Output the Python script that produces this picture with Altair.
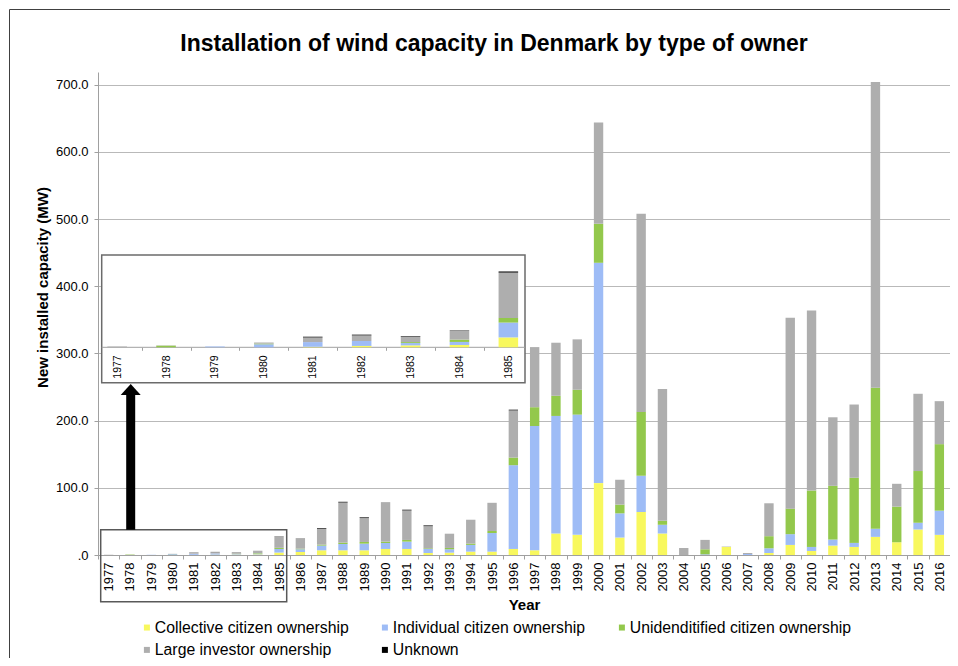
import altair as alt
import pandas as pd

years = [str(y) for y in range(1977, 2017)]
owners = ["Collective citizen ownership", "Individual citizen ownership",
          "Unidenditified citizen ownership", "Large investor ownership", "Unknown"]
colors = ["#F8F85E", "#9EBCF6", "#93C84C", "#AEAEAE", "#000000"]

collective = [0, 0, 0, 0, 0.2, 0.5, 0.7, 0.85, 3.6, 4.5,
              7, 7, 7, 9, 9, 3, 3.5, 5, 5, 9,
              7, 32, 30, 107, 26, 64, 32, 0, 0, 12,
              0, 3, 15, 6, 14, 12, 27, 19, 38, 30]
individual = [0, 0, 0.3, 1.1, 1.7, 1.8, 0.85, 1.1, 5.4, 4,
              7, 9.4, 9.9, 8.9, 10.9, 6, 5, 10, 27.7, 124.7,
              185, 175, 179, 328, 36, 54, 13, 0, 1, 0,
              1.5, 7, 16, 6, 9, 6, 12, 0, 10, 36]
unidentified = [0, 0.6, 0, 0.25, 0, 0, 0.35, 0.85, 1.7, 1,
                1.4, 2, 2.5, 2, 2.5, 1, 2, 2, 3, 11.3,
                28, 30, 37, 58, 13, 95, 6, 0, 7.5, 0,
                0, 18, 38, 84, 80, 97, 210, 53, 77, 99]
large_investor = [0.3, 0.1, 0, 0.4, 1.7, 2.05, 1.95, 3.15, 16.5, 15.7,
                  23.3, 59.8, 35.6, 58.8, 44, 33, 21.2, 35.5, 42, 70.3,
                  89.5, 79, 75, 151, 37, 295, 196, 10.4, 14, 0.6,
                  1.5, 49, 284, 268, 102, 109, 455, 34, 115, 64]
unknown = [0, 0, 0, 0, 0.25, 0.25, 0.2, 0.15, 0.4, 0,
           1, 1, 1, 0, 1, 1, 0, 0, 0, 1,
           0, 0, 0, 0, 0, 0, 0, 0, 0, 0,
           0, 0, 0, 0, 0, 0, 0, 0, 0, 0]

inset_years = years[:9]
y_ticks = [0, 100, 200, 300, 400, 500, 600, 700]
title_text = "Installation of wind capacity in Denmark by type of owner"

series = [collective, individual, unidentified, large_investor, unknown]
rows = []
for k, (owner, vals) in enumerate(zip(owners, series)):
    for yr, v in zip(years, vals):
        rows.append({"Year": yr, "Owner": owner, "MW": v, "ord": k})
df = pd.DataFrame(rows)
one = pd.DataFrame({"a": [0]})

FONT = "Liberation Sans"
GRID = "#b9b9b9"
AX = "#a0a0a0"

color = alt.Color(
    "Owner:N",
    scale=alt.Scale(domain=owners, range=colors),
    legend=alt.Legend(
        orient="none", legendX=41, legendY=547.5, direction="horizontal",
        columns=3, columnPadding=28, rowPadding=5.5, symbolType="square",
        symbolSize=36, symbolStrokeWidth=0, labelFontSize=15.8, labelOffset=0,
        labelLimit=400, title=None, padding=0, labelColor="black", labelFont=FONT,
    ),
)
order = alt.Order("ord:Q", sort="ascending")

main = alt.Chart(df).mark_bar(width=alt.RelativeBandSize(0.44)).encode(
    x=alt.X(
        "Year:N", sort=years,
        scale=alt.Scale(domain=years, paddingInner=0, paddingOuter=0),
        axis=alt.Axis(
            labelAngle=-90, labelFontSize=13, labelColor="black", labelFont=FONT,
            tickBand="extent", tickSize=4, tickColor=AX, domainColor=AX,
            labelPadding=3, grid=False,
            title="Year", titleFontSize=15, titleFontWeight="bold", titleColor="black",
            titleFont=FONT, titleX=426, titleY=54.7, titleBaseline="alphabetic",
            titleAlign="center",
        ),
    ),
    y=alt.Y(
        "MW:Q", stack="zero",
        scale=alt.Scale(domain=[0, 719], nice=False, zero=True),
        axis=alt.Axis(
            values=y_ticks,
            labelExpr="datum.value == 0 ? '.0' : format(datum.value, '.1f')",
            grid=True, gridColor=GRID, gridWidth=1, domainColor=AX, tickColor=AX,
            tickSize=4, labelFontSize=13, labelColor="black", labelFont=FONT,
            labelPadding=6,
            title="New installed capacity (MW)", titleFontSize=15,
            titleFontWeight="bold", titleColor="black", titleFont=FONT,
            titleX=-56, titleY=215, titleAngle=-90, titleAlign="center",
            titleBaseline="middle",
        ),
    ),
    color=color,
    order=order,
)

frame = alt.Chart(one).mark_rect(fillOpacity=0, stroke="#404040", strokeWidth=1).encode(
    x=alt.value(-88.5), x2=alt.value(1000), y=alt.value(-62.5), y2=alt.value(700)
)
title = alt.Chart(one).mark_text(
    text=title_text, font=FONT, fontSize=23, fontWeight="bold", color="black",
    align="center", baseline="alphabetic",
).encode(x=alt.value(396), y=alt.value(-21.3))

label_box = alt.Chart(one).mark_rect(fillOpacity=0, stroke="#595959", strokeWidth=1.5).encode(
    x=alt.value(2.7), x2=alt.value(188.7), y=alt.value(457.7), y2=alt.value(529.7)
)
arrow_shaft = alt.Chart(one).mark_rule(color="black", strokeWidth=9).encode(
    x=alt.value(32.7), y=alt.value(322), y2=alt.value(457.7)
)
arrow_head = alt.Chart(one).mark_point(
    shape="M-1,0.55L1,0.55L0,-0.55Z", filled=True, color="black", opacity=1, size=400
).encode(x=alt.value(32.7), y=alt.value(317.5))

inset_bg = alt.Chart(one).mark_rect(fill="white", stroke="#6b6b6b", strokeWidth=1.5).encode(
    x=alt.value(3.7), x2=alt.value(427), y=alt.value(183), y2=alt.value(310.7)
)
inset_axis_line = alt.Chart(one).mark_rule(color=AX, strokeWidth=1).encode(
    x=alt.value(3.7), x2=alt.value(427), y=alt.value(275.3)
)

inset = alt.Chart(df).transform_filter(
    "toNumber(datum.Year) <= 1985"
).mark_bar(width=alt.RelativeBandSize(0.4)).encode(
    x=alt.X(
        "Year:N", sort=inset_years,
        scale=alt.Scale(domain=inset_years, range=[-5.3, 434.8], paddingInner=0, paddingOuter=0),
        axis=alt.Axis(
            orient="bottom", offset=-207.7, labelAngle=-90, labelFontSize=10.5,
            labelColor="black", labelFont=FONT, tickBand="extent", tickSize=3,
            tickColor=AX, domain=False, grid=False, labelPadding=4.5, title=None,
            zindex=1,
            tickOpacity={"condition": {"test": "datum.extra || datum.value === '1985'", "value": 0}, "value": 1},
        ),
    ),
    y=alt.Y(
        "MW:Q", stack="zero",
        scale=alt.Scale(domain=[0, 33.6], range=[275.3, 183], nice=False, zero=True),
        axis=None,
    ),
    color=color,
    order=order,
)

chart = alt.layer(
    main, frame, title, label_box, arrow_shaft, arrow_head, inset_bg, inset_axis_line, inset
).resolve_scale(
    x="independent", y="independent"
).properties(
    width=852, height=483,
    autosize=alt.AutoSizeParams(type="none"),
    padding={"left": 90, "top": 64, "right": 0, "bottom": 103},
).configure(
    font=FONT
).configure_view(stroke=None)

chart.save("out.html", embed_options={"renderer": "svg", "actions": False})
